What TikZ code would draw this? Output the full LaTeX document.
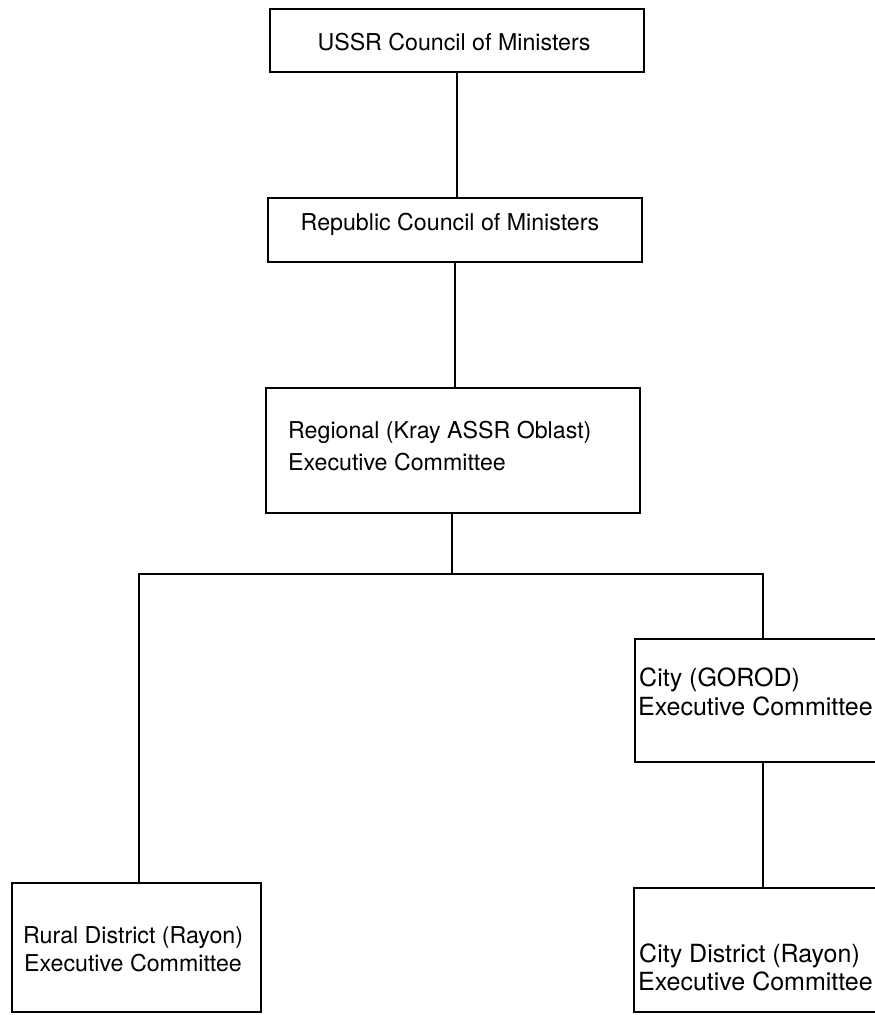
\documentclass[tikz,border=0pt]{standalone}
\usepackage{fontspec}
\setmainfont{TeX Gyre Heros}
\begin{document}
\begin{tikzpicture}[x=1pt,y=-1pt,
  box/.style={draw=black,line width=1.4pt,rectangle,inner sep=0pt},
  conn/.style={draw=black,line width=1.7pt},
  lbl/.style={anchor=base west,inner sep=0pt,font=\fontsize{23.2}{29}\selectfont},
  lblbig/.style={lbl,font=\fontsize{25}{29}\selectfont}]
\useasboundingbox[fill=white] (0,0) rectangle (875,1015);
% boxes
\node[box,minimum width=374pt,minimum height=63pt] (ussr) at (457,40.5) {};
\node[box,minimum width=374pt,minimum height=64pt] (rep) at (455,230) {};
\node[box,minimum width=374pt,minimum height=125pt] (reg) at (453,450.5) {};
\node[box,minimum width=249pt,minimum height=129pt] (rural) at (136.5,947.5) {};
\node[box,minimum width=250pt,minimum height=123pt] (city) at (760,700.5) {};
\node[box,minimum width=250pt,minimum height=124pt] (cityd) at (759,950) {};
% labels
\node[lbl,anchor=base] (t1) at (454,50) {USSR Council of Ministers};
\node[lbl,anchor=base] (t2) at (450,230) {Republic Council of Ministers};
\node[lbl] (t3a) at (288,438) {Regional (Kray ASSR Oblast)};
\node[lbl] (t3b) at (288,470) {Executive Committee};
\node[lblbig] (t4a) at (639,686) {City (GOROD)};
\node[lblbig] (t4b) at (638,715) {Executive Committee};
\node[lbl] (t5a) at (23,943) {Rural District (Rayon)};
\node[lbl] (t5b) at (24,971) {Executive Committee};
\node[lblbig] (t6a) at (639,962) {City District (Rayon)};
\node[lblbig] (t6b) at (638,990) {Executive Committee};
% connectors
\coordinate (j) at (452,574);
\draw[conn] (ussr.south) -- (rep.north -| ussr.south);
\draw[conn] (rep.south) -- (reg.north -| rep.south);
\draw[conn] (reg.south -| j) -- (j);
\draw[conn] (rural.north -| 139,0) |- (j) -| (city.north -| 763,0);
\draw[conn] (city.south -| 763,0) -- (cityd.north -| 763,0);
\end{tikzpicture}
\end{document}
